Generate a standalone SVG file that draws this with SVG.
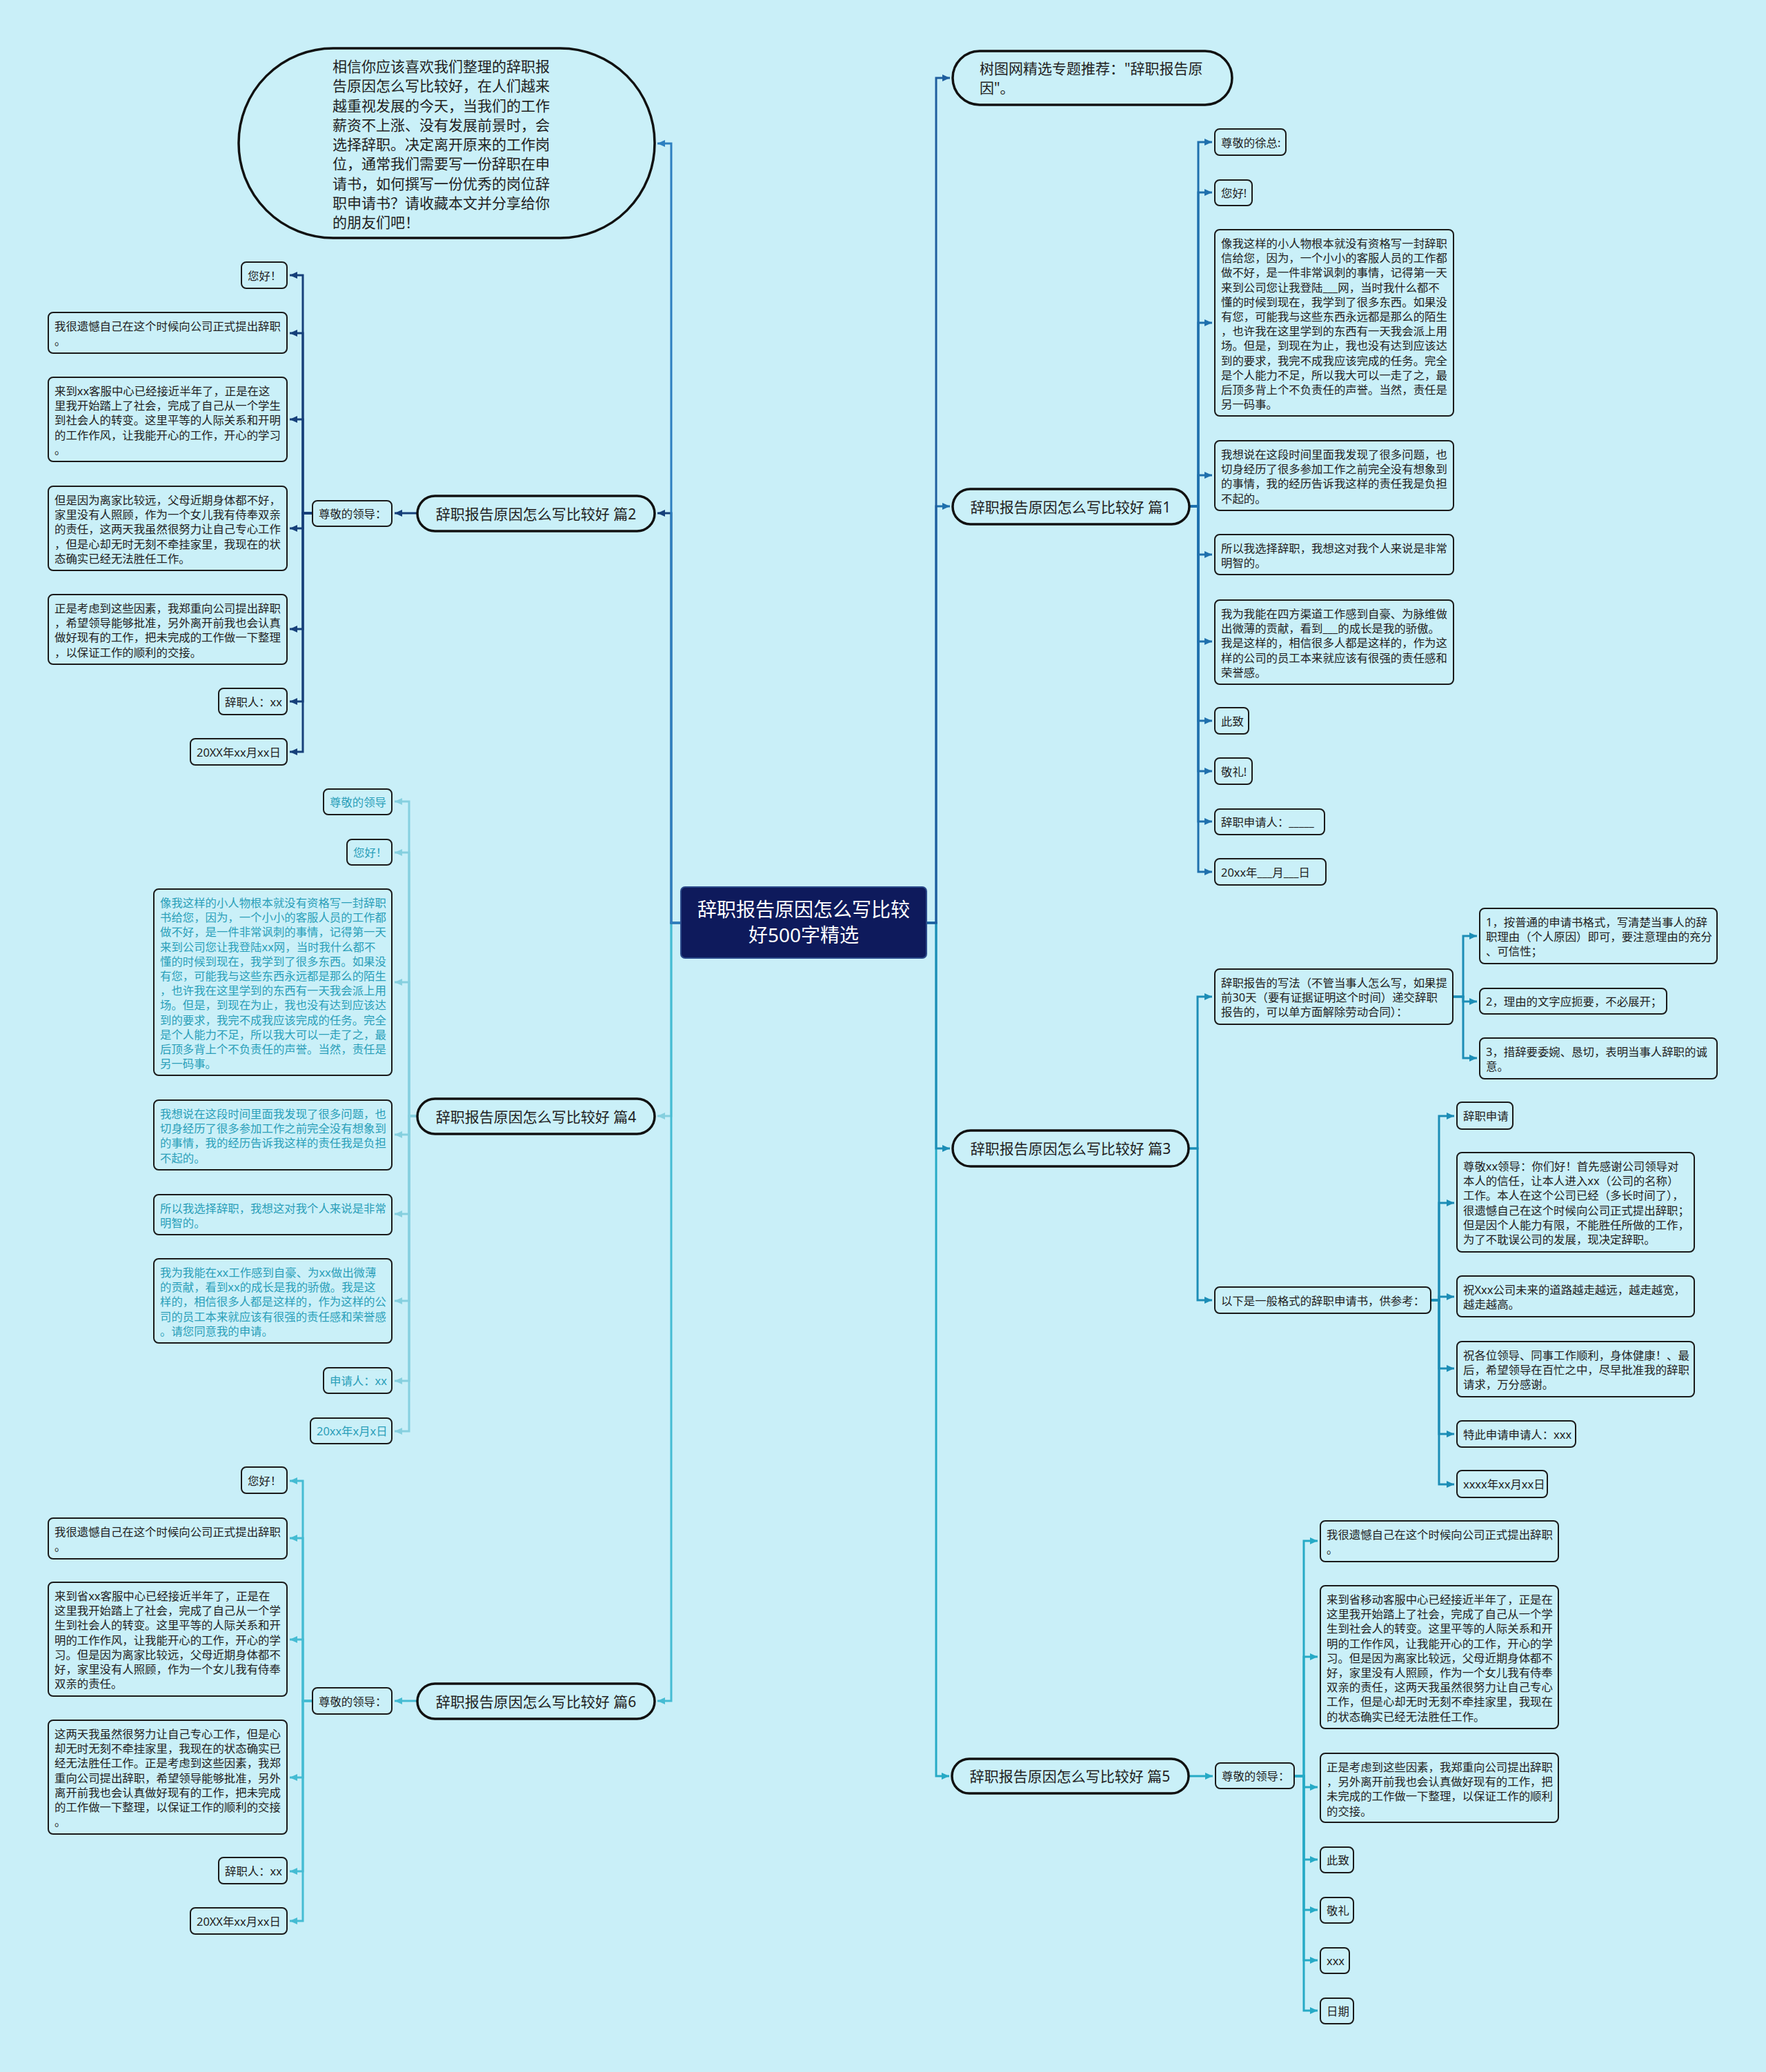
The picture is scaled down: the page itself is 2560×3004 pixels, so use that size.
<svg xmlns="http://www.w3.org/2000/svg" width="2560" height="3004" viewBox="0 0 2560 3004">
<style>
text{font-family:"Noto Sans","Noto Sans CJK SC",sans-serif;dominant-baseline:central}
.lt{font-size:16.4px;fill:#222}
.tl{font-size:16.4px;fill:#2a9fb9}
.bt{font-size:21px;fill:#222}
.leaf{fill:#caf0f8;stroke:#1a1a1a;stroke-width:2}
.br{fill:#caf0f8;stroke:#111;stroke-width:3.5}
.c{fill:none;stroke-width:3}
</style>
<defs>
<marker id="a_ell" markerUnits="userSpaceOnUse" markerWidth="12" markerHeight="12" refX="11" refY="6" orient="auto"><path d="M0,1 L11,6 L0,11 z" fill="#2d7fc0"/></marker>
<marker id="a_p2" markerUnits="userSpaceOnUse" markerWidth="12" markerHeight="12" refX="11" refY="6" orient="auto"><path d="M0,1 L11,6 L0,11 z" fill="#16407a"/></marker>
<marker id="a_p4" markerUnits="userSpaceOnUse" markerWidth="12" markerHeight="12" refX="11" refY="6" orient="auto"><path d="M0,1 L11,6 L0,11 z" fill="#86d0df"/></marker>
<marker id="a_p6" markerUnits="userSpaceOnUse" markerWidth="12" markerHeight="12" refX="11" refY="6" orient="auto"><path d="M0,1 L11,6 L0,11 z" fill="#45bcd3"/></marker>
<marker id="a_tr" markerUnits="userSpaceOnUse" markerWidth="12" markerHeight="12" refX="11" refY="6" orient="auto"><path d="M0,1 L11,6 L0,11 z" fill="#1e5e9e"/></marker>
<marker id="a_p1" markerUnits="userSpaceOnUse" markerWidth="12" markerHeight="12" refX="11" refY="6" orient="auto"><path d="M0,1 L11,6 L0,11 z" fill="#1f70ad"/></marker>
<marker id="a_p3" markerUnits="userSpaceOnUse" markerWidth="12" markerHeight="12" refX="11" refY="6" orient="auto"><path d="M0,1 L11,6 L0,11 z" fill="#1c8db6"/></marker>
<marker id="a_p5" markerUnits="userSpaceOnUse" markerWidth="12" markerHeight="12" refX="11" refY="6" orient="auto"><path d="M0,1 L11,6 L0,11 z" fill="#26aac6"/></marker>
</defs>
<rect x="0" y="0" width="2560" height="3004" fill="#c9eff8"/>

<g id="connectors">
<!-- left main -->
<path class="c" stroke="#86d0df" marker-end="url(#a_p4)" d="M987,1338 H973 V1618 H953"/>
<path class="c" stroke="#45bcd3" marker-end="url(#a_p6)" d="M987,1338 H973 V2466 H953"/>
<path class="c" stroke="#16407a" marker-end="url(#a_p2)" d="M987,1338 H973 V744 H953"/>
<path class="c" stroke="#2d7fc0" marker-end="url(#a_ell)" d="M987,1338 H973 V208 H953"/>
<!-- pian2 -->
<path class="c" stroke="#16407a" marker-end="url(#a_p2)" d="M605,744 H572"/>
<g stroke="#16407a" class="c" marker-end="url(#a_p2)">
<path class="c" d="M453,744 H439 V399 H420"/>
<path class="c" d="M453,744 H439 V483 H420"/>
<path class="c" d="M453,744 H439 V608 H420"/>
<path class="c" d="M453,744 H439 V766 H420"/>
<path class="c" d="M453,744 H439 V912 H420"/>
<path class="c" d="M453,744 H439 V1017 H420"/>
<path class="c" d="M453,744 H439 V1090 H420"/>
</g>
<!-- pian4 -->
<g stroke="#86d0df" class="c" marker-end="url(#a_p4)">
<path class="c" d="M605,1618 H593 V1162 H572"/>
<path class="c" d="M605,1618 H593 V1236 H572"/>
<path class="c" d="M605,1618 H593 V1424 H572"/>
<path class="c" d="M605,1618 H593 V1645 H572"/>
<path class="c" d="M605,1618 H593 V1760 H572"/>
<path class="c" d="M605,1618 H593 V1886 H572"/>
<path class="c" d="M605,1618 H593 V2002 H572"/>
<path class="c" d="M605,1618 H593 V2075 H572"/>
</g>
<!-- pian6 -->
<path class="c" stroke="#45bcd3" marker-end="url(#a_p6)" d="M605,2466 H572"/>
<g stroke="#45bcd3" class="c" marker-end="url(#a_p6)">
<path class="c" d="M453,2466 H439 V2147 H420"/>
<path class="c" d="M453,2466 H439 V2230 H420"/>
<path class="c" d="M453,2466 H439 V2377 H420"/>
<path class="c" d="M453,2466 H439 V2577 H420"/>
<path class="c" d="M453,2466 H439 V2713 H420"/>
<path class="c" d="M453,2466 H439 V2785 H420"/>
</g>
<!-- right main -->
<path class="c" stroke="#26aac6" marker-end="url(#a_p5)" d="M1343,1338 H1357 V2575 H1376"/>
<path class="c" stroke="#1c8db6" marker-end="url(#a_p3)" d="M1343,1338 H1357 V1665 H1377"/>
<path class="c" stroke="#1f70ad" marker-end="url(#a_p1)" d="M1343,1338 H1357 V734 H1377"/>
<path class="c" stroke="#1e5e9e" marker-end="url(#a_tr)" d="M1343,1338 H1357 V113 H1377"/>
<!-- pian1 -->
<g stroke="#1f70ad" class="c" marker-end="url(#a_p1)">
<path class="c" d="M1724,734 H1737 V206 H1757"/>
<path class="c" d="M1724,734 H1737 V279 H1757"/>
<path class="c" d="M1724,734 H1737 V468 H1757"/>
<path class="c" d="M1724,734 H1737 V689 H1757"/>
<path class="c" d="M1724,734 H1737 V804 H1757"/>
<path class="c" d="M1724,734 H1737 V930 H1757"/>
<path class="c" d="M1724,734 H1737 V1045 H1757"/>
<path class="c" d="M1724,734 H1737 V1118 H1757"/>
<path class="c" d="M1724,734 H1737 V1191 H1757"/>
<path class="c" d="M1724,734 H1737 V1264 H1757"/>
</g>
<!-- pian3 -->
<g stroke="#1c8db6" class="c" marker-end="url(#a_p3)">
<path class="c" d="M1723,1665 H1736 V1445 H1757"/>
<path class="c" d="M1723,1665 H1736 V1885 H1757"/>
<path class="c" d="M2106,1445 H2121 V1357 H2141"/>
<path class="c" d="M2106,1445 H2121 V1452 H2141"/>
<path class="c" d="M2106,1445 H2121 V1534 H2141"/>
<path class="c" d="M2074,1885 H2086 V1618 H2108"/>
<path class="c" d="M2074,1885 H2086 V1744 H2108"/>
<path class="c" d="M2074,1885 H2086 V1880 H2108"/>
<path class="c" d="M2074,1885 H2086 V1984 H2108"/>
<path class="c" d="M2074,1885 H2086 V2079 H2108"/>
<path class="c" d="M2074,1885 H2086 V2152 H2108"/>
</g>
<!-- pian5 -->
<path class="c" stroke="#26aac6" marker-end="url(#a_p5)" d="M1723,2575 H1758"/>
<g stroke="#26aac6" class="c" marker-end="url(#a_p5)">
<path class="c" d="M1876,2575 H1890 V2234 H1910"/>
<path class="c" d="M1876,2575 H1890 V2402 H1910"/>
<path class="c" d="M1876,2575 H1890 V2591 H1910"/>
<path class="c" d="M1876,2575 H1890 V2696 H1910"/>
<path class="c" d="M1876,2575 H1890 V2769 H1910"/>
<path class="c" d="M1876,2575 H1890 V2842 H1910"/>
<path class="c" d="M1876,2575 H1890 V2915 H1910"/>
</g>
</g>

<g id="center">
<rect x="987" y="1286" width="356" height="103" rx="6" fill="#0e1a5c" stroke="#2b4a8a" stroke-width="2"/>
<text x="1165" y="1318" font-size="28" fill="#fff" text-anchor="middle">辞职报告原因怎么写比较</text>
<text x="1165" y="1355" font-size="28" fill="#fff" text-anchor="middle">好500字精选</text>
</g>

<!-- LEFT -->
<g id="intro">
<rect class="br" x="346" y="70" width="603" height="275" rx="137"/>
<text class="bt" x="482" y="96"><tspan x="482" dy="0">相信你应该喜欢我们整理的辞职报</tspan><tspan x="482" dy="28.25">告原因怎么写比较好，在人们越来</tspan><tspan x="482" dy="28.25">越重视发展的今天，当我们的工作</tspan><tspan x="482" dy="28.25">薪资不上涨、没有发展前景时，会</tspan><tspan x="482" dy="28.25">选择辞职。决定离开原来的工作岗</tspan><tspan x="482" dy="28.25">位，通常我们需要写一份辞职在申</tspan><tspan x="482" dy="28.25">请书，如何撰写一份优秀的岗位辞</tspan><tspan x="482" dy="28.25">职申请书？请收藏本文并分享给你</tspan><tspan x="482" dy="28.25">的朋友们吧！</tspan></text>
</g>

<g id="pian2">
<rect class="br" x="605" y="719" width="344" height="51" rx="25.5"/>
<text class="bt" x="777" y="744.5" text-anchor="middle">辞职报告原因怎么写比较好 篇2</text>
</g>
<g id="p2-lead"><rect class="leaf" x="453" y="726" width="115" height="37" rx="7"/><text class="lt" x="462" y="744.5">尊敬的领导：</text></g>
<g id="p2-1"><rect class="leaf" x="350" y="380" width="66" height="38" rx="7"/><text class="lt" x="359" y="399">您好！</text></g>
<g id="p2-2"><rect class="leaf" x="70" y="453" width="346" height="59" rx="7"/><text class="lt" x="79" y="472"><tspan x="79" dy="0">我很遗憾自己在这个时候向公司正式提出辞职</tspan><tspan x="79" dy="21.2">。</tspan></text></g>
<g id="p2-3"><rect class="leaf" x="70" y="547" width="346" height="122" rx="7"/><text class="lt" x="79" y="566"><tspan x="79" dy="0">来到xx客服中心已经接近半年了，正是在这</tspan><tspan x="79" dy="21.2">里我开始踏上了社会，完成了自己从一个学生</tspan><tspan x="79" dy="21.2">到社会人的转变。这里平等的人际关系和开明</tspan><tspan x="79" dy="21.2">的工作作风，让我能开心的工作，开心的学习</tspan><tspan x="79" dy="21.2">。</tspan></text></g>
<g id="p2-4"><rect class="leaf" x="70" y="705" width="346" height="122" rx="7"/><text class="lt" x="79" y="724"><tspan x="79" dy="0">但是因为离家比较远，父母近期身体都不好，</tspan><tspan x="79" dy="21.2">家里没有人照顾，作为一个女儿我有侍奉双亲</tspan><tspan x="79" dy="21.2">的责任，这两天我虽然很努力让自己专心工作</tspan><tspan x="79" dy="21.2">，但是心却无时无刻不牵挂家里，我现在的状</tspan><tspan x="79" dy="21.2">态确实已经无法胜任工作。</tspan></text></g>
<g id="p2-5"><rect class="leaf" x="70" y="862" width="346" height="101" rx="7"/><text class="lt" x="79" y="881"><tspan x="79" dy="0">正是考虑到这些因素，我郑重向公司提出辞职</tspan><tspan x="79" dy="21.2">，希望领导能够批准，另外离开前我也会认真</tspan><tspan x="79" dy="21.2">做好现有的工作，把未完成的工作做一下整理</tspan><tspan x="79" dy="21.2">，以保证工作的顺利的交接。</tspan></text></g>
<g id="p2-6"><rect class="leaf" x="317" y="998" width="99" height="38" rx="7"/><text class="lt" x="326" y="1017">辞职人：xx</text></g>
<g id="p2-7"><rect class="leaf" x="276" y="1071" width="140" height="38" rx="7"/><text class="lt" x="285" y="1090">20XX年xx月xx日</text></g>

<g id="pian4">
<rect class="br" x="605" y="1593" width="344" height="51" rx="25.5"/>
<text class="bt" x="777" y="1618.5" text-anchor="middle">辞职报告原因怎么写比较好 篇4</text>
</g>
<g id="p4-1"><rect class="leaf" x="469" y="1144" width="99" height="37" rx="7"/><text class="tl" x="478" y="1162.5">尊敬的领导</text></g>
<g id="p4-2"><rect class="leaf" x="503" y="1217" width="65" height="37" rx="7"/><text class="tl" x="512" y="1235.5">您好！</text></g>
<g id="p4-3"><rect class="leaf" x="223" y="1289" width="345" height="270" rx="7"/><text class="tl" x="232" y="1308"><tspan x="232" dy="0">像我这样的小人物根本就没有资格写一封辞职</tspan><tspan x="232" dy="21.2">书给您，因为，一个小小的客服人员的工作都</tspan><tspan x="232" dy="21.2">做不好，是一件非常讽刺的事情，记得第一天</tspan><tspan x="232" dy="21.2">来到公司您让我登陆xx网，当时我什么都不</tspan><tspan x="232" dy="21.2">懂的时候到现在，我学到了很多东西。如果没</tspan><tspan x="232" dy="21.2">有您，可能我与这些东西永远都是那么的陌生</tspan><tspan x="232" dy="21.2">，也许我在这里学到的东西有一天我会派上用</tspan><tspan x="232" dy="21.2">场。但是，到现在为止，我也没有达到应该达</tspan><tspan x="232" dy="21.2">到的要求，我完不成我应该完成的任务。完全</tspan><tspan x="232" dy="21.2">是个人能力不足，所以我大可以一走了之，最</tspan><tspan x="232" dy="21.2">后顶多背上个不负责任的声誉。当然，责任是</tspan><tspan x="232" dy="21.2">另一码事。</tspan></text></g>
<g id="p4-4"><rect class="leaf" x="223" y="1595" width="345" height="101" rx="7"/><text class="tl" x="232" y="1614"><tspan x="232" dy="0">我想说在这段时间里面我发现了很多问题，也</tspan><tspan x="232" dy="21.2">切身经历了很多参加工作之前完全没有想象到</tspan><tspan x="232" dy="21.2">的事情，我的经历告诉我这样的责任我是负担</tspan><tspan x="232" dy="21.2">不起的。</tspan></text></g>
<g id="p4-5"><rect class="leaf" x="223" y="1732" width="345" height="58" rx="7"/><text class="tl" x="232" y="1751"><tspan x="232" dy="0">所以我选择辞职，我想这对我个人来说是非常</tspan><tspan x="232" dy="21.2">明智的。</tspan></text></g>
<g id="p4-6"><rect class="leaf" x="223" y="1825" width="345" height="122" rx="7"/><text class="tl" x="232" y="1844"><tspan x="232" dy="0">我为我能在xx工作感到自豪、为xx做出微薄</tspan><tspan x="232" dy="21.2">的贡献，看到xx的成长是我的骄傲。我是这</tspan><tspan x="232" dy="21.2">样的，相信很多人都是这样的，作为这样的公</tspan><tspan x="232" dy="21.2">司的员工本来就应该有很强的责任感和荣誉感</tspan><tspan x="232" dy="21.2">。请您同意我的申请。</tspan></text></g>
<g id="p4-7"><rect class="leaf" x="469" y="1983" width="99" height="37" rx="7"/><text class="tl" x="478" y="2001.5">申请人：xx</text></g>
<g id="p4-8"><rect class="leaf" x="450" y="2056" width="118" height="37" rx="7"/><text class="tl" x="459" y="2074.5">20xx年x月x日</text></g>

<g id="pian6">
<rect class="br" x="605" y="2441" width="344" height="51" rx="25.5"/>
<text class="bt" x="777" y="2466.5" text-anchor="middle">辞职报告原因怎么写比较好 篇6</text>
</g>
<g id="p6-lead"><rect class="leaf" x="453" y="2447" width="115" height="38" rx="7"/><text class="lt" x="462" y="2466">尊敬的领导：</text></g>
<g id="p6-1"><rect class="leaf" x="350" y="2127" width="66" height="38" rx="7"/><text class="lt" x="359" y="2146">您好！</text></g>
<g id="p6-2"><rect class="leaf" x="70" y="2201" width="346" height="59" rx="7"/><text class="lt" x="79" y="2220"><tspan x="79" dy="0">我很遗憾自己在这个时候向公司正式提出辞职</tspan><tspan x="79" dy="21.2">。</tspan></text></g>
<g id="p6-3"><rect class="leaf" x="70" y="2294" width="346" height="165" rx="7"/><text class="lt" x="79" y="2313"><tspan x="79" dy="0">来到省xx客服中心已经接近半年了，正是在</tspan><tspan x="79" dy="21.2">这里我开始踏上了社会，完成了自己从一个学</tspan><tspan x="79" dy="21.2">生到社会人的转变。这里平等的人际关系和开</tspan><tspan x="79" dy="21.2">明的工作作风，让我能开心的工作，开心的学</tspan><tspan x="79" dy="21.2">习。但是因为离家比较远，父母近期身体都不</tspan><tspan x="79" dy="21.2">好，家里没有人照顾，作为一个女儿我有侍奉</tspan><tspan x="79" dy="21.2">双亲的责任。</tspan></text></g>
<g id="p6-4"><rect class="leaf" x="70" y="2494" width="346" height="165" rx="7"/><text class="lt" x="79" y="2513"><tspan x="79" dy="0">这两天我虽然很努力让自己专心工作，但是心</tspan><tspan x="79" dy="21.2">却无时无刻不牵挂家里，我现在的状态确实已</tspan><tspan x="79" dy="21.2">经无法胜任工作。正是考虑到这些因素，我郑</tspan><tspan x="79" dy="21.2">重向公司提出辞职，希望领导能够批准，另外</tspan><tspan x="79" dy="21.2">离开前我也会认真做好现有的工作，把未完成</tspan><tspan x="79" dy="21.2">的工作做一下整理，以保证工作的顺利的交接</tspan><tspan x="79" dy="21.2">。</tspan></text></g>
<g id="p6-5"><rect class="leaf" x="317" y="2693" width="99" height="38" rx="7"/><text class="lt" x="326" y="2712">辞职人：xx</text></g>
<g id="p6-6"><rect class="leaf" x="276" y="2766" width="140" height="38" rx="7"/><text class="lt" x="285" y="2785">20XX年xx月xx日</text></g>

<!-- RIGHT -->
<g id="topic">
<rect class="br" x="1381" y="74" width="405" height="78" rx="39"/>
<text class="bt" x="1420" y="99"><tspan x="1420" dy="0">树图网精选专题推荐："辞职报告原</tspan><tspan x="1420" dy="28.25">因"。</tspan></text>
</g>

<g id="pian1">
<rect class="br" x="1381" y="709" width="343" height="51" rx="25.5"/>
<text class="bt" x="1552" y="734.5" text-anchor="middle">辞职报告原因怎么写比较好 篇1</text>
</g>
<g id="p1-1"><rect class="leaf" x="1761" y="187" width="103" height="38" rx="7"/><text class="lt" x="1770" y="206">尊敬的徐总:</text></g>
<g id="p1-2"><rect class="leaf" x="1761" y="261" width="54" height="37" rx="7"/><text class="lt" x="1770" y="279.5">您好!</text></g>
<g id="p1-3"><rect class="leaf" x="1761" y="333" width="346" height="270" rx="7"/><text class="lt" x="1770" y="352"><tspan x="1770" dy="0">像我这样的小人物根本就没有资格写一封辞职</tspan><tspan x="1770" dy="21.2">信给您，因为，一个小小的客服人员的工作都</tspan><tspan x="1770" dy="21.2">做不好，是一件非常讽刺的事情，记得第一天</tspan><tspan x="1770" dy="21.2">来到公司您让我登陆___网，当时我什么都不</tspan><tspan x="1770" dy="21.2">懂的时候到现在，我学到了很多东西。如果没</tspan><tspan x="1770" dy="21.2">有您，可能我与这些东西永远都是那么的陌生</tspan><tspan x="1770" dy="21.2">，也许我在这里学到的东西有一天我会派上用</tspan><tspan x="1770" dy="21.2">场。但是，到现在为止，我也没有达到应该达</tspan><tspan x="1770" dy="21.2">到的要求，我完不成我应该完成的任务。完全</tspan><tspan x="1770" dy="21.2">是个人能力不足，所以我大可以一走了之，最</tspan><tspan x="1770" dy="21.2">后顶多背上个不负责任的声誉。当然，责任是</tspan><tspan x="1770" dy="21.2">另一码事。</tspan></text></g>
<g id="p1-4"><rect class="leaf" x="1761" y="639" width="346" height="101" rx="7"/><text class="lt" x="1770" y="658"><tspan x="1770" dy="0">我想说在这段时间里面我发现了很多问题，也</tspan><tspan x="1770" dy="21.2">切身经历了很多参加工作之前完全没有想象到</tspan><tspan x="1770" dy="21.2">的事情，我的经历告诉我这样的责任我是负担</tspan><tspan x="1770" dy="21.2">不起的。</tspan></text></g>
<g id="p1-5"><rect class="leaf" x="1761" y="775" width="346" height="58" rx="7"/><text class="lt" x="1770" y="794"><tspan x="1770" dy="0">所以我选择辞职，我想这对我个人来说是非常</tspan><tspan x="1770" dy="21.2">明智的。</tspan></text></g>
<g id="p1-6"><rect class="leaf" x="1761" y="870" width="346" height="122" rx="7"/><text class="lt" x="1770" y="889"><tspan x="1770" dy="0">我为我能在四方渠道工作感到自豪、为脉维做</tspan><tspan x="1770" dy="21.2">出微薄的贡献，看到___的成长是我的骄傲。</tspan><tspan x="1770" dy="21.2">我是这样的，相信很多人都是这样的，作为这</tspan><tspan x="1770" dy="21.2">样的公司的员工本来就应该有很强的责任感和</tspan><tspan x="1770" dy="21.2">荣誉感。</tspan></text></g>
<g id="p1-7"><rect class="leaf" x="1761" y="1026" width="49" height="38" rx="7"/><text class="lt" x="1770" y="1045">此致</text></g>
<g id="p1-8"><rect class="leaf" x="1761" y="1099" width="54" height="38" rx="7"/><text class="lt" x="1770" y="1118">敬礼!</text></g>
<g id="p1-9"><rect class="leaf" x="1761" y="1173" width="159" height="37" rx="7"/><text class="lt" x="1770" y="1191.5">辞职申请人：_____</text></g>
<g id="p1-10"><rect class="leaf" x="1761" y="1245" width="161" height="38" rx="7"/><text class="lt" x="1770" y="1264">20xx年___月___日</text></g>

<g id="pian3">
<rect class="br" x="1381" y="1639" width="342" height="52" rx="26"/>
<text class="bt" x="1552" y="1665" text-anchor="middle">辞职报告原因怎么写比较好 篇3</text>
</g>
<g id="p3-a"><rect class="leaf" x="1761" y="1405" width="345" height="80" rx="7"/><text class="lt" x="1770" y="1424"><tspan x="1770" dy="0">辞职报告的写法（不管当事人怎么写，如果提</tspan><tspan x="1770" dy="21.2">前30天（要有证据证明这个时间）递交辞职</tspan><tspan x="1770" dy="21.2">报告的，可以单方面解除劳动合同）：</tspan></text></g>
<g id="p3-a1"><rect class="leaf" x="2145" y="1317" width="344" height="80" rx="7"/><text class="lt" x="2154" y="1336"><tspan x="2154" dy="0">1，按普通的申请书格式，写清楚当事人的辞</tspan><tspan x="2154" dy="21.2">职理由（个人原因）即可，要注意理由的充分</tspan><tspan x="2154" dy="21.2">、可信性；</tspan></text></g>
<g id="p3-a2"><rect class="leaf" x="2145" y="1433" width="271" height="37" rx="7"/><text class="lt" x="2154" y="1451.5">2，理由的文字应扼要，不必展开；</text></g>
<g id="p3-a3"><rect class="leaf" x="2145" y="1505" width="344" height="59" rx="7"/><text class="lt" x="2154" y="1524"><tspan x="2154" dy="0">3，措辞要委婉、恳切，表明当事人辞职的诚</tspan><tspan x="2154" dy="21.2">意。</tspan></text></g>
<g id="p3-b"><rect class="leaf" x="1761" y="1866" width="313" height="38" rx="7"/><text class="lt" x="1770" y="1885">以下是一般格式的辞职申请书，供参考：</text></g>
<g id="p3-b1"><rect class="leaf" x="2112" y="1598" width="81" height="39" rx="7"/><text class="lt" x="2121" y="1617.5">辞职申请</text></g>
<g id="p3-b2"><rect class="leaf" x="2112" y="1671" width="344" height="144" rx="7"/><text class="lt" x="2121" y="1690"><tspan x="2121" dy="0">尊敬xx领导：你们好！首先感谢公司领导对</tspan><tspan x="2121" dy="21.2">本人的信任，让本人进入xx（公司的名称）</tspan><tspan x="2121" dy="21.2">工作。本人在这个公司已经（多长时间了），</tspan><tspan x="2121" dy="21.2">很遗憾自己在这个时候向公司正式提出辞职；</tspan><tspan x="2121" dy="21.2">但是因个人能力有限，不能胜任所做的工作，</tspan><tspan x="2121" dy="21.2">为了不耽误公司的发展，现决定辞职。</tspan></text></g>
<g id="p3-b3"><rect class="leaf" x="2112" y="1850" width="344" height="59" rx="7"/><text class="lt" x="2121" y="1869"><tspan x="2121" dy="0">祝Xxx公司未来的道路越走越远，越走越宽，</tspan><tspan x="2121" dy="21.2">越走越高。</tspan></text></g>
<g id="p3-b4"><rect class="leaf" x="2112" y="1945" width="344" height="80" rx="7"/><text class="lt" x="2121" y="1964"><tspan x="2121" dy="0">祝各位领导、同事工作顺利，身体健康！、最</tspan><tspan x="2121" dy="21.2">后，希望领导在百忙之中，尽早批准我的辞职</tspan><tspan x="2121" dy="21.2">请求，万分感谢。</tspan></text></g>
<g id="p3-b5"><rect class="leaf" x="2112" y="2060" width="172" height="38" rx="7"/><text class="lt" x="2121" y="2079">特此申请申请人：xxx</text></g>
<g id="p3-b6"><rect class="leaf" x="2112" y="2132" width="131" height="39" rx="7"/><text class="lt" x="2121" y="2151.5">xxxx年xx月xx日</text></g>

<g id="pian5">
<rect class="br" x="1380" y="2550" width="343" height="50" rx="25"/>
<text class="bt" x="1551" y="2575" text-anchor="middle">辞职报告原因怎么写比较好 篇5</text>
</g>
<g id="p5-lead"><rect class="leaf" x="1762" y="2556" width="114" height="37" rx="7"/><text class="lt" x="1771" y="2574.5">尊敬的领导：</text></g>
<g id="p5-1"><rect class="leaf" x="1914" y="2205" width="345" height="59" rx="7"/><text class="lt" x="1923" y="2224"><tspan x="1923" dy="0">我很遗憾自己在这个时候向公司正式提出辞职</tspan><tspan x="1923" dy="21.2">。</tspan></text></g>
<g id="p5-2"><rect class="leaf" x="1914" y="2299" width="345" height="207" rx="7"/><text class="lt" x="1923" y="2318"><tspan x="1923" dy="0">来到省移动客服中心已经接近半年了，正是在</tspan><tspan x="1923" dy="21.2">这里我开始踏上了社会，完成了自己从一个学</tspan><tspan x="1923" dy="21.2">生到社会人的转变。这里平等的人际关系和开</tspan><tspan x="1923" dy="21.2">明的工作作风，让我能开心的工作，开心的学</tspan><tspan x="1923" dy="21.2">习。但是因为离家比较远，父母近期身体都不</tspan><tspan x="1923" dy="21.2">好，家里没有人照顾，作为一个女儿我有侍奉</tspan><tspan x="1923" dy="21.2">双亲的责任，这两天我虽然很努力让自己专心</tspan><tspan x="1923" dy="21.2">工作，但是心却无时无刻不牵挂家里，我现在</tspan><tspan x="1923" dy="21.2">的状态确实已经无法胜任工作。</tspan></text></g>
<g id="p5-3"><rect class="leaf" x="1914" y="2542" width="345" height="100" rx="7"/><text class="lt" x="1923" y="2561"><tspan x="1923" dy="0">正是考虑到这些因素，我郑重向公司提出辞职</tspan><tspan x="1923" dy="21.2">，另外离开前我也会认真做好现有的工作，把</tspan><tspan x="1923" dy="21.2">未完成的工作做一下整理，以保证工作的顺利</tspan><tspan x="1923" dy="21.2">的交接。</tspan></text></g>
<g id="p5-4"><rect class="leaf" x="1914" y="2678" width="48" height="37" rx="7"/><text class="lt" x="1923" y="2696.5">此致</text></g>
<g id="p5-5"><rect class="leaf" x="1914" y="2751" width="48" height="37" rx="7"/><text class="lt" x="1923" y="2769.5">敬礼</text></g>
<g id="p5-6"><rect class="leaf" x="1914" y="2824" width="42" height="37" rx="7"/><text class="lt" x="1923" y="2842.5">xxx</text></g>
<g id="p5-7"><rect class="leaf" x="1914" y="2897" width="48" height="37" rx="7"/><text class="lt" x="1923" y="2915.5">日期</text></g>
</svg>
